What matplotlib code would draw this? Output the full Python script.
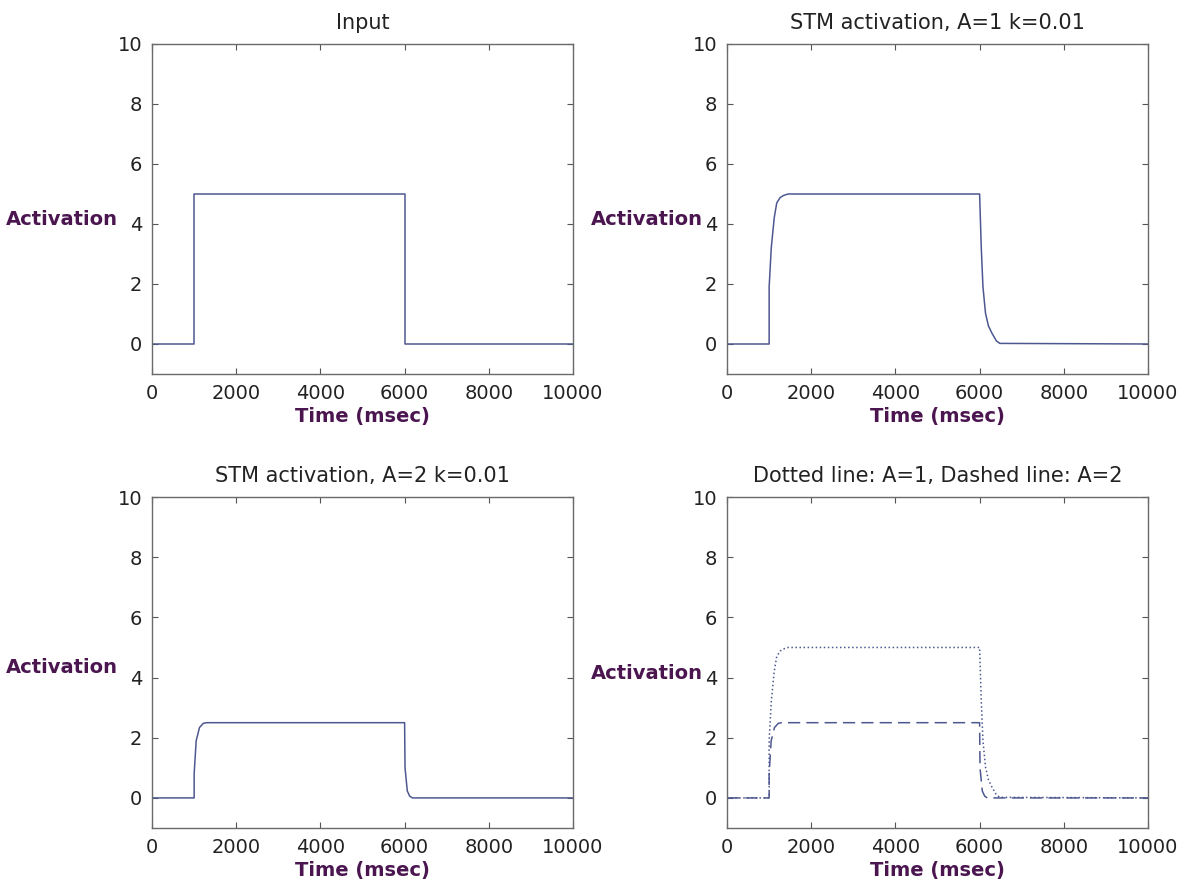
import matplotlib
matplotlib.use("Agg")
import matplotlib.pyplot as plt

# ---- data ----
# input pulse
t_input = [0, 1000, 1000, 6000, 6000, 10000]
x_input = [0, 0, 5, 5, 0, 0]

# STM activation, A=1 k=0.01
t_a1 = [0, 1000, 1000, 1050, 1120, 1180, 1260, 1340, 1450, 6000,
        6040, 6080, 6140, 6210, 6290, 6400, 6480, 10000]
x_a1 = [0, 0, 1.9, 3.2, 4.2, 4.7, 4.88, 4.95, 5.0, 5.0,
        3.2, 1.9, 1.03, 0.6, 0.37, 0.1, 0.02, 0]

# STM activation, A=2 k=0.01
t_a2 = [0, 1000, 1000, 1048, 1127, 1220, 1300, 6000,
        6010, 6064, 6120, 6183, 10000]
x_a2 = [0, 0, 0.8, 1.9, 2.34, 2.48, 2.5, 2.5,
        1.0, 0.23, 0.06, 0, 0]

titles = ["Input", "STM activation, A=1 k=0.01",
          "STM activation, A=2 k=0.01", "Dotted line: A=1, Dashed line: A=2"]
x_ticks = [0, 2000, 4000, 6000, 8000, 10000]
y_ticks = [0, 2, 4, 6, 8, 10]

line_col = "#4e5890"
label_col = "#4b1650"

fig = plt.figure(figsize=(11.88, 8.85), dpi=100)

# axes boxes in figure fractions (left, bottom, width, height)
boxes = [
    (0.128, 0.5774, 0.3543, 0.3729),
    (0.612, 0.5774, 0.3543, 0.3729),
    (0.128, 0.0644, 0.3543, 0.3740),
    (0.612, 0.0644, 0.3543, 0.3740),
]
ylab_pos = [(-0.081, 0.467), (-0.057, 0.467), (-0.081, 0.486), (-0.057, 0.468)]

axes = [fig.add_axes(b) for b in boxes]

axes[0].plot(t_input, x_input, color=line_col, lw=1.1)
axes[1].plot(t_a1, x_a1, color=line_col, lw=1.1)
axes[2].plot(t_a2, x_a2, color=line_col, lw=1.1)
axes[3].plot(t_a1, x_a1, color=line_col, lw=1.1, linestyle=":")
axes[3].plot(t_a2, x_a2, color=line_col, lw=1.1, linestyle=(0, (8, 4)))

for ax, title, (lx, ly) in zip(axes, titles, ylab_pos):
    ax.set_xlim(0, 10000)
    ax.set_ylim(-1, 10)
    ax.set_xticks(x_ticks)
    ax.set_yticks(y_ticks)
    ax.tick_params(direction="in", length=4, width=0.8, top=True, right=True,
                   labelsize=14, colors="#555555", labelcolor="#222222", pad=7)
    for sp in ax.spines.values():
        sp.set_color("#6a6a6a")
        sp.set_linewidth(1.0)
    ax.set_title(title, fontsize=15, color="#222222", pad=11)
    ax.set_xlabel("Time (msec)", fontsize=14, fontweight="bold",
                  color=label_col, labelpad=3)
    ax.set_ylabel("Activation", fontsize=14, fontweight="bold",
                  color=label_col, rotation=0, ha="right", va="center")
    ax.yaxis.set_label_coords(lx, ly)

plt.savefig("out.png", dpi=100)
